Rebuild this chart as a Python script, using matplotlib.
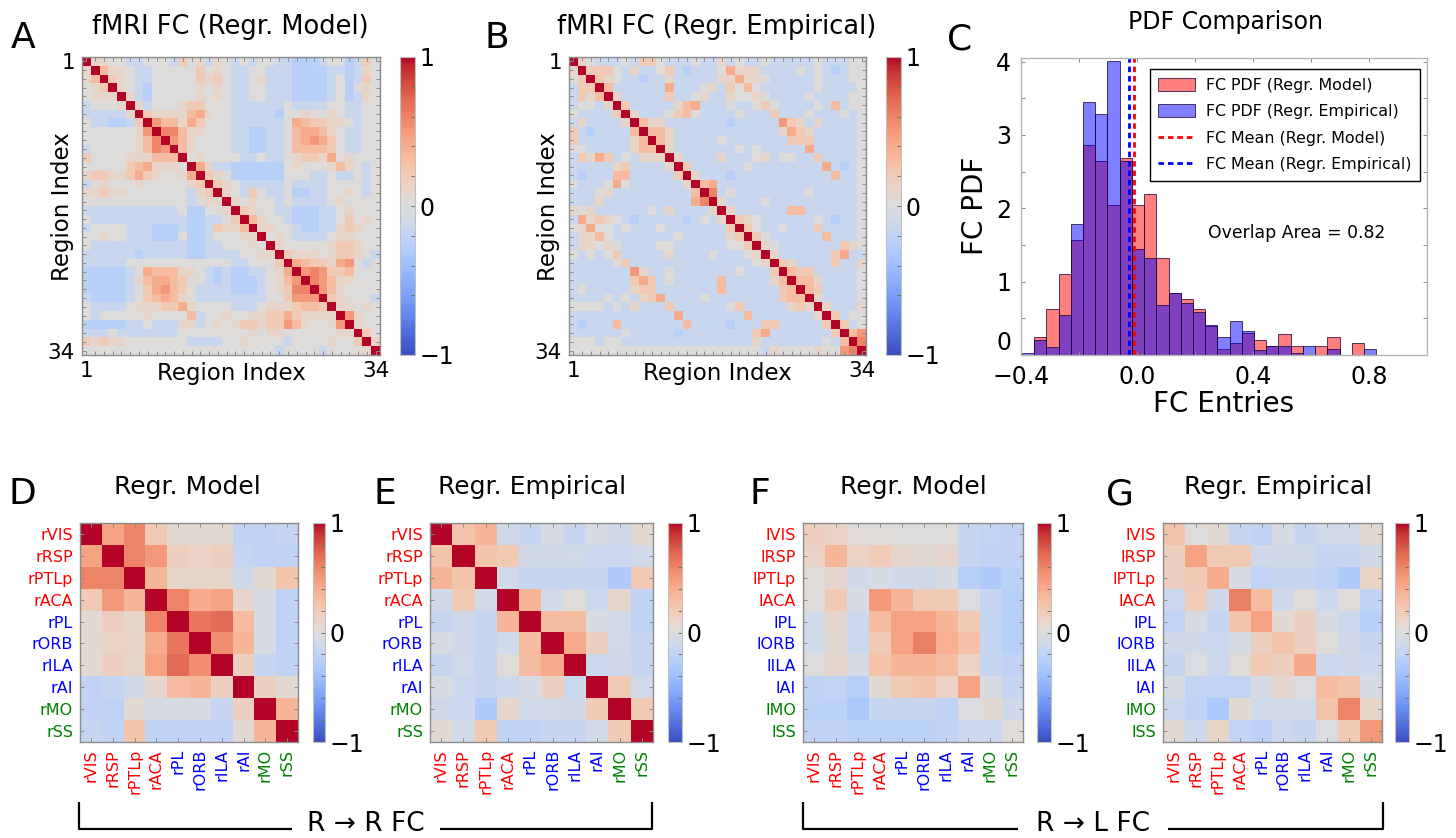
import numpy as np
import matplotlib
matplotlib.use('Agg')
import matplotlib.pyplot as plt
from matplotlib.patches import Patch
from matplotlib.lines import Line2D
from matplotlib.ticker import MultipleLocator

# ---------------------------------------------------------------
# data
# ---------------------------------------------------------------

# 34x34 FC matrices, upper triangle coded per cell:
# B/b/c = blue levels, 0..8 = 0.0..0.8, X = diagonal
fc_model_rows = [
    "X1100 cc000 c201c 10c0c 00ccb bbc00 bc20",
    ".X311 0cc00 00020 10cc0 0cccb bbbcc bc10",
    "..X21 0cc00 00021 20cc0 1cccb bbbc0 bc20",
    "...X1 0cb00 00010 10cc0 0cccb bbbc0 b010",
    "....X 1cb00 00010 10cc0 0cccb bbbc0 bc10",
    "..... X1c00 01220 00ccc ccc0c ccc00 cc00",
    "..... .X211 11341 00ccc ccb00 10010 cc00",
    "..... ..X53 31420 00ccc ccc04 32211 0c00",
    "..... ...X6 63110 00ccb bcc03 44310 cc00",
    "..... ....X 53100 00ccb bcc03 45420 cc00",
    "..... ..... X3100 00ccb bcc03 33320 cc00",
    "..... ..... .X010 000cc 0cc01 22140 1000",
    "..... ..... ..X41 ccbbb bbb01 00013 10c0",
    "..... ..... ...X2 10bbb bbb00 0cc0c c0c0",
    "..... ..... ....X 210cc ccc0c ccc00 00c0",
    "..... ..... ..... X10c2 0cc0b bcc00 10c0",
    "..... ..... ..... .X101 00c0c ccc01 0000",
    "..... ..... ..... ..X21 00ccb bbcc0 1000",
    "..... ..... ..... ...X3 100cb bbcc0 2010",
    "..... ..... ..... ....X 1100c bbcc1 2100",
    "..... ..... ..... ..... X010c ccc01 1000",
    "..... ..... ..... ..... .X100 00012 2100",
    "..... ..... ..... ..... ..X21 11012 210c",
    "..... ..... ..... ..... ...X4 32214 50c0",
    "..... ..... ..... ..... ....X 56522 3000",
    "..... ..... ..... ..... ..... X6531 1000",
    "..... ..... ..... ..... ..... .X531 0000",
    "..... ..... ..... ..... ..... ..X21 000c",
    "..... ..... ..... ..... ..... ...X1 1010",
    "..... ..... ..... ..... ..... ....X 5100",
    "..... ..... ..... ..... ..... ..... X100",
    "..... ..... ..... ..... ..... ..... .X20",
    "..... ..... ..... ..... ..... ..... ..X1",
    "..... ..... ..... ..... ..... ..... ...X",
]

fc_emp_rows = [
    "X10cc c0c22 0ccc0 cc1c0 cc0cc ccc0c cc00",
    ".X222 0c1cc 02cbc cc041 11ccc c0c0c bc00",
    "..X21 0ccbc c1ccc cc114 110cc ccc0c cc00",
    "...X3 ccccc c4ccc 01c20 30ccc ccc0c ccc0",
    "....X 1cccc c2cc0 1cc10 010cc cc0cc cc00",
    "..... X2ccc cc134 ccc0c c020c ccc0c 3c00",
    "..... .X1cc c0230 cccc0 ccc2c cc0cc c0c0",
    "..... ..X31 1cccc cccbc cccc5 21c1c ccc0",
    "..... ...X3 31ccc ccccc cccc1 421cc ccc0",
    "..... ....X 31ccc cc0cc ccccc 222cc ccc0",
    "..... ..... X1ccc cccc0 c0ccc cc4cc ccc0",
    "..... ..... .X1cc cc1cc c01c0 0cc2c ccc0",
    "..... ..... ..X2c ccccc 0cccc cccc4 cbc0",
    "..... ..... ...X1 cccbc ccccc ccccc 3cc0",
    "..... ..... ....X 34ccc ccccc ccccc ccc0",
    "..... ..... ..... X6c0c ccccc cc0cc ccc0",
    "..... ..... ..... .X1cc cc0cc ccccc ccc0",
    "..... ..... ..... ..X1c ccccc 33ccc ccc0",
    "..... ..... ..... ...X2 10ccc ccc0c bcc0",
    "..... ..... ..... ....X 20cc0 ccc2c ccc0",
    "..... ..... ..... ..... X20cc cccc3 ccc0",
    "..... ..... ..... ..... .X10c ccccc c210",
    "..... ..... ..... ..... ..X1c ccccc 24cc",
    "..... ..... ..... ..... ...X2 1cccc 2cc1",
    "..... ..... ..... ..... ....X 322cc ccc0",
    "..... ..... ..... ..... ..... X331c ccc0",
    "..... ..... ..... ..... ..... .X32c ccc0",
    "..... ..... ..... ..... ..... ..X1c ccc0",
    "..... ..... ..... ..... ..... ...X1 ccc1",
    "..... ..... ..... ..... ..... ....X 2c00",
    "..... ..... ..... ..... ..... ..... X2c0",
    "..... ..... ..... ..... ..... ..... .X35",
    "..... ..... ..... ..... ..... ..... ..X6",
    "..... ..... ..... ..... ..... ..... ...X",
]

cell_code = {'B': -0.34, 'b': -0.25, 'c': -0.14, '0': 0.0, '1': 0.1, '2': 0.2,
             '3': 0.3, '4': 0.4, '5': 0.5, '6': 0.6, '7': 0.7, '8': 0.8}

# histogram of FC entries (density per bin)
hist_lo, hist_hi = -0.397, 0.825
pdf_model = [0.00, 0.25, 0.63, 1.10, 1.57, 2.86, 2.65, 2.05, 2.68, 2.05,
             2.20, 1.32, 0.84, 0.76, 0.63, 0.39, 0.08, 0.16, 0.30, 0.20,
             0.12, 0.29, 0.12, 0.00, 0.12, 0.25, 0.00, 0.16, 0.00]
pdf_emp = [0.03, 0.20, 0.11, 0.55, 1.79, 3.45, 3.28, 4.01, 2.64, 1.44,
           1.32, 0.68, 0.84, 0.71, 0.59, 0.41, 0.25, 0.46, 0.33, 0.07,
           0.12, 0.12, 0.03, 0.12, 0.00, 0.08, 0.00, 0.00, 0.08]
mean_model = -0.012
mean_emp = -0.026
overlap_area = 0.82

# 10-region sub-networks
regions = ['VIS', 'RSP', 'PTLp', 'ACA', 'PL', 'ORB', 'ILA', 'AI', 'MO', 'SS']
region_colors = ['red'] * 4 + ['blue'] * 4 + ['green'] * 2

rr_model = [
    [1.00, 0.45, 0.60, 0.20, 0.05, 0.05, 0.05, -0.20, -0.20, -0.15],
    [0.45, 1.00, 0.60, 0.50, 0.15, 0.12, 0.15, -0.15, -0.20, -0.20],
    [0.60, 0.60, 1.00, 0.35, 0.10, 0.10, 0.10, -0.10, 0.05, 0.25],
    [0.20, 0.50, 0.35, 1.00, 0.60, 0.40, 0.45, 0.08, -0.05, -0.20],
    [0.05, 0.15, 0.10, 0.60, 1.00, 0.65, 0.70, 0.30, -0.05, -0.20],
    [0.05, 0.12, 0.10, 0.40, 0.65, 1.00, 0.55, 0.35, -0.05, -0.20],
    [0.05, 0.15, 0.10, 0.45, 0.70, 0.55, 1.00, 0.15, -0.15, -0.20],
    [-0.20, -0.15, -0.10, 0.08, 0.30, 0.35, 0.15, 1.00, 0.15, 0.05],
    [-0.20, -0.20, 0.05, -0.05, -0.05, -0.05, -0.15, 0.15, 1.00, 0.35],
    [-0.15, -0.20, 0.25, -0.20, -0.20, -0.20, -0.20, 0.05, 0.35, 1.00],
]
rr_emp = [
    [1.00, 0.25, 0.35, -0.10, -0.15, -0.05, -0.15, -0.05, -0.10, 0.05],
    [0.25, 1.00, 0.25, 0.20, -0.10, -0.10, -0.08, -0.12, -0.12, -0.08],
    [0.35, 0.25, 1.00, -0.08, -0.15, -0.15, -0.15, -0.15, -0.30, 0.20],
    [-0.10, 0.20, -0.08, 1.00, 0.35, -0.08, 0.02, -0.12, 0.08, -0.20],
    [-0.15, -0.10, -0.15, 0.35, 1.00, 0.30, 0.30, -0.05, -0.08, -0.20],
    [-0.05, -0.10, -0.15, -0.08, 0.30, 1.00, 0.40, 0.15, -0.08, -0.15],
    [-0.15, -0.08, -0.15, 0.02, 0.30, 0.40, 1.00, -0.12, -0.10, -0.15],
    [-0.05, -0.12, -0.15, -0.12, -0.05, 0.15, -0.12, 1.00, 0.20, -0.08],
    [-0.10, -0.12, -0.30, 0.08, -0.08, -0.08, -0.10, 0.20, 1.00, 0.20],
    [0.05, -0.08, 0.20, -0.20, -0.20, -0.15, -0.15, -0.08, 0.20, 1.00],
]
rl_model = [
    [0.15, 0.12, 0.02, 0.02, 0.00, 0.00, 0.00, -0.15, -0.18, -0.20],
    [0.12, 0.35, 0.12, 0.18, 0.08, 0.05, 0.08, -0.15, -0.20, -0.20],
    [0.02, 0.08, -0.10, -0.05, -0.10, -0.10, -0.05, -0.25, -0.30, -0.22],
    [0.02, 0.20, -0.05, 0.50, 0.35, 0.20, 0.20, -0.02, -0.15, -0.25],
    [-0.08, 0.08, -0.12, 0.30, 0.45, 0.45, 0.35, 0.20, -0.15, -0.25],
    [-0.08, 0.05, -0.12, 0.20, 0.45, 0.62, 0.38, 0.28, -0.15, -0.25],
    [0.00, 0.08, -0.05, 0.25, 0.35, 0.35, 0.30, 0.12, -0.15, -0.20],
    [-0.20, -0.18, -0.25, 0.05, 0.20, 0.25, 0.12, 0.45, -0.05, -0.15],
    [-0.22, -0.22, -0.32, -0.15, -0.15, -0.15, -0.20, -0.02, 0.05, -0.10],
    [-0.20, -0.20, -0.22, -0.22, -0.22, -0.22, -0.20, -0.12, -0.12, 0.02],
]
rl_emp = [
    [0.25, 0.00, 0.05, -0.15, -0.20, -0.05, -0.15, -0.08, -0.08, 0.05],
    [0.15, 0.45, 0.20, 0.20, -0.10, -0.10, -0.10, -0.15, -0.15, -0.10],
    [0.15, 0.20, 0.40, -0.05, -0.18, -0.15, -0.15, -0.20, -0.30, 0.12],
    [-0.12, 0.18, -0.10, 0.62, 0.30, -0.10, 0.02, -0.12, 0.02, -0.20],
    [-0.18, -0.05, -0.15, 0.25, 0.45, 0.05, 0.15, -0.05, -0.12, -0.25],
    [-0.10, -0.10, -0.12, -0.05, 0.15, 0.25, 0.15, 0.00, -0.10, -0.15],
    [-0.15, -0.02, -0.12, 0.02, 0.20, 0.15, 0.42, -0.12, -0.10, -0.12],
    [-0.05, -0.18, -0.18, -0.18, -0.05, 0.08, -0.02, 0.30, 0.25, -0.05],
    [-0.12, -0.20, -0.32, 0.05, -0.08, -0.08, -0.08, 0.25, 0.60, 0.10],
    [0.05, -0.12, 0.10, -0.18, -0.22, -0.12, -0.15, -0.02, 0.20, 0.50],
]


def decode(rows):
    n = len(rows)
    m = np.eye(n)
    for i, row in enumerate(rows):
        row = row.replace(' ', '')
        for j in range(i + 1, n):
            m[i, j] = m[j, i] = cell_code[row[j]]
    return m


# ---------------------------------------------------------------
# figure
# ---------------------------------------------------------------
W, H = 1456, 838
fig = plt.figure(figsize=(W / 100, H / 100), dpi=100)
plt.rcParams['font.family'] = ['DejaVu Sans']

SPINE = '#8c8c8c'


def box(left, top, right, bottom):
    return [left / W, 1 - bottom / H, (right - left) / W, (bottom - top) / H]


def ftext(x, y, s, **kw):
    kw.setdefault('ha', 'center')
    kw.setdefault('va', 'center')
    fig.text(x / W, 1 - y / H, s, **kw)


def fline(xs, ys, lw=1.6):
    fig.add_artist(Line2D([x / W for x in xs], [1 - y / H for y in ys],
                          color='black', lw=lw, solid_capstyle='butt'))


def draw_matrix(pos, cpos, m, cb_size=17):
    ax = fig.add_axes(box(*pos))
    im = ax.imshow(m, cmap='coolwarm', vmin=-1, vmax=1, aspect='auto',
                   interpolation='nearest')
    for s in ax.spines.values():
        s.set_color(SPINE)
        s.set_linewidth(1.0)
    ax.tick_params(direction='in', top=True, right=True, length=3,
                   color=SPINE, width=0.7)
    cax = fig.add_axes(box(*cpos))
    cb = fig.colorbar(im, cax=cax, ticks=[-1, 0, 1])
    cb.outline.set_edgecolor('#c0c0c0')
    cb.ax.yaxis.set_minor_locator(MultipleLocator(0.2))
    cb.ax.tick_params(which='both', direction='in', length=3, color='#707070',
                      width=0.7, labelsize=cb_size, pad=3)
    return ax


# --- A / B: full 34-region FC ---
n_reg = 34
idx_labels = ['1'] + [''] * (n_reg - 2) + [str(n_reg)]
big = [
    (decode(fc_model_rows), (82, 57, 380, 355), (400, 57, 415, 355),
     'fMRI FC (Regr. Model)', 'A', 230, 23),
    (decode(fc_emp_rows), (569, 57, 866, 355), (886, 57, 901, 355),
     'fMRI FC (Regr. Empirical)', 'B', 717, 497),
]
for m, pos, cpos, title, letter, tx, lx in big:
    ax = draw_matrix(pos, cpos, m)
    ax.set_xticks(range(n_reg))
    ax.set_yticks(range(n_reg))
    ax.set_xticklabels(idx_labels, fontsize=15.5)
    ax.set_yticklabels(idx_labels, fontsize=15.5)
    ax.tick_params(axis='x', pad=4)
    ax.tick_params(axis='y', pad=5)
    ftext(tx, 27, title, fontsize=18.5)
    ftext(lx, 38, letter, fontsize=26)
    ftext((pos[0] + pos[2]) / 2, 373, 'Region Index', fontsize=16.5)
    ftext(pos[0] - 20, 207, 'Region Index', fontsize=16.5, rotation=90)

# --- C: PDF comparison ---
axc = fig.add_axes(box(1021, 58, 1427, 355))
edges = np.linspace(hist_lo, hist_hi, len(pdf_model) + 1)
bar_edge = (0.1, 0, 0.2, 0.75)
axc.bar(edges[:-1], pdf_model, width=np.diff(edges), align='edge',
        facecolor=(1, 0, 0, 0.5), edgecolor=bar_edge, linewidth=0.7)
axc.bar(edges[:-1], pdf_emp, width=np.diff(edges), align='edge',
        facecolor=(0, 0, 1, 0.5), edgecolor=bar_edge, linewidth=0.7)
dash = (0, (2.0, 1.4))
axc.axvline(mean_model, color='red', lw=2, ls=dash)
axc.axvline(mean_emp, color='blue', lw=2, ls=dash)
axc.set_xlim(-0.4, 1.0)
axc.set_ylim(0, 4.05)
axc.set_xticks([-0.4, 0.0, 0.4, 0.8])
axc.set_yticks([0, 1, 2, 3, 4])
axc.xaxis.set_minor_locator(MultipleLocator(0.2))
axc.yaxis.set_minor_locator(MultipleLocator(0.5))
axc.tick_params(which='both', direction='in', top=True, right=True,
                length=3, color=SPINE, width=0.7, labelsize=17)
axc.tick_params(axis='y', pad=7)
axc.tick_params(axis='x', pad=7)
# the zero label sits above the baseline so it clears the x labels
axc.get_yticklabels()[0].set_verticalalignment('bottom')
for s in axc.spines.values():
    s.set_color('#b4b4b4')
    s.set_linewidth(1.0)
handles = [
    Patch(facecolor=(1, 0, 0, 0.5), edgecolor=bar_edge, lw=0.7),
    Patch(facecolor=(0, 0, 1, 0.5), edgecolor=bar_edge, lw=0.7),
    Line2D([], [], color='red', lw=2, ls=dash),
    Line2D([], [], color='blue', lw=2, ls=dash),
]
labels = ['FC PDF (Regr. Model)', 'FC PDF (Regr. Empirical)',
          'FC Mean (Regr. Model)', 'FC Mean (Regr. Empirical)']
leg = axc.legend(handles, labels, loc='upper right', bbox_to_anchor=(0.983, 0.963),
                 borderaxespad=0, fontsize=11.4, fancybox=False, framealpha=1,
                 edgecolor='black', handlelength=2.3, handleheight=0.9,
                 borderpad=0.55, labelspacing=0.72, handletextpad=0.7)
leg.get_frame().set_linewidth(1.0)
axc.text(0.68, 0.41, f'Overlap Area = {overlap_area:.2f}', transform=axc.transAxes,
         ha='center', va='center', fontsize=12.4)
ftext(1226, 22, 'PDF Comparison', fontsize=17)
ftext(960, 40, 'C', fontsize=26)
ftext(1224, 404, 'FC Entries', fontsize=20)
ftext(975, 206, 'FC PDF', fontsize=20, rotation=90)

# --- D-G: 10-region sub-networks ---
small = [
    (rr_model, (80, 523, 298, 742), (313, 523, 325, 742), 'r', 'Regr. Model', 'D', 187, 22),
    (rr_emp, (430, 523, 653, 742), (668, 523, 682, 742), 'r', 'Regr. Empirical', 'E', 532, 385),
    (rl_model, (803, 523, 1023, 742), (1037, 523, 1051, 742), 'l', 'Regr. Model', 'F', 913, 760),
    (rl_emp, (1163, 523, 1382, 742), (1395, 523, 1409, 742), 'l', 'Regr. Empirical', 'G', 1278, 1120),
]
for m, pos, cpos, row_side, title, letter, tx, lx in small:
    ax = draw_matrix(pos, cpos, np.array(m))
    ax.set_xticks(range(len(regions)))
    ax.set_yticks(range(len(regions)))
    ax.set_xticklabels(['r' + r for r in regions], rotation=90, fontsize=11.5)
    ax.set_yticklabels([row_side + r for r in regions], fontsize=11.5)
    ax.tick_params(axis='both', pad=5)
    for lab, col in zip(ax.get_xticklabels(), region_colors):
        lab.set_color(col)
    for lab, col in zip(ax.get_yticklabels(), region_colors):
        lab.set_color(col)
    ftext(tx, 487, title, fontsize=18)
    ftext(lx, 494, letter, fontsize=26)

# brackets under the sub-network panels
for x0, x1, xa, xb, label in [(79, 652, 292, 440, 'R → R FC'),
                              (803, 1383, 1018, 1168, 'R → L FC')]:
    fline([x0, x0, xa], [802, 829, 829])
    fline([xb, x1, x1], [829, 829, 802])
    ftext((xa + xb) / 2, 831, label, fontsize=19, va='baseline')

fig.savefig('out.png', dpi=100)
